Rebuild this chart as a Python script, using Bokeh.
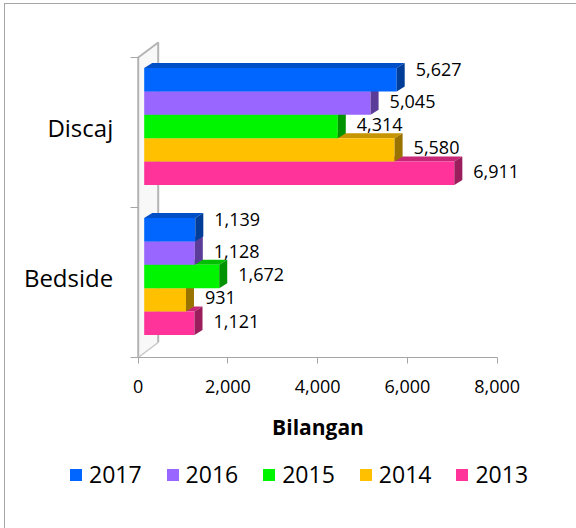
from bokeh.plotting import figure
from bokeh.models import Range1d, FixedTicker, NumeralTickFormatter, Legend, LegendItem
from bokeh.embed import file_html
from bokeh.resources import INLINE
from bokeh.core.properties import value

# ---------------- data ----------------
categories = ["Bedside", "Discaj"]            # bottom to top
series = ["2017", "2016", "2015", "2014", "2013"]
discaj = [5627, 5045, 4314, 5580, 6911]
bedside = [1139, 1128, 1672, 931, 1121]
x_ticks = [0, 2000, 4000, 6000, 8000]
x_title = "Bilangan"

colors = ["#0066FF", "#9966FF", "#00F500", "#FFC000", "#FF3399"]
values_by_cat = {"Discaj": discaj, "Bedside": bedside}

FONT = "Open Sans"

# ---------------- geometry ----------------
W, H = 571, 524                  # canvas (placed at page 5,4 after margin + border)
px_x = 359 / 8000.0              # px per unit on the value axis
px_y = 150.0                     # px per category band
X0_PX, Y0_PX = 132.7, 353.0      # canvas position of the (0, 0) corner
X_MIN = -X0_PX / px_x
X_MAX = X_MIN + W / px_x
Y_MAX = Y0_PX / px_y
Y_MIN = Y_MAX - H / px_y

off = 6 / px_x          # front face starts a bit right of the wall
ddx = 8 / px_x          # 3D depth
ddy = 5 / px_y
bar_h = 23.4 / px_y
top_rel = 64.5 / px_y
wdx = 20 / px_x
wdy = 15 / px_y


def shade(hexcol, f):
    h = hexcol.lstrip("#")
    r, g, b = (int(h[i:i + 2], 16) for i in (0, 2, 4))
    return "#%02x%02x%02x" % (int(r * f), int(g * f), int(b * f))


p = figure(width=W, height=H, output_backend="svg", toolbar_location=None,
           x_range=Range1d(X_MIN, X_MAX), y_range=Range1d(Y_MIN, Y_MAX),
           min_border_left=0, min_border_right=0, min_border_top=0, min_border_bottom=0,
           frame_width=W, frame_height=H)
p.outline_line_color = None
p.xgrid.visible = False
p.ygrid.visible = False
p.styles = {"margin-left": "4px", "margin-top": "3px",
            "border-left": "1px solid #a6a6a6", "border-top": "1px solid #a6a6a6"}

# ---------------- wall ----------------
p.patch([0, wdx, wdx, 0], [0, wdy, 2 + wdy, 2], fill_color="#f8f8f8", line_color=None)
p.line([0, 0, wdx, wdx], [0, 2, 2 + wdy, wdy], line_color="#b4b4b4", line_width=2)
p.line([0, wdx], [0, wdy], line_color="#c8c8c8", line_width=1.5)

# ---------------- bars ----------------
centers = {"Bedside": 0.5, "Discaj": 1.5}
front_renderers = {}
for i in reversed(range(len(series))):
    col = colors[i]
    lefts, rights, tops, bots = [], [], [], []
    top_xs, top_ys, side_xs, side_ys = [], [], [], []
    for cat in categories:
        v = values_by_cat[cat][i]
        yt = centers[cat] + top_rel - i * bar_h
        yb = yt - bar_h
        x0, x1 = off, off + v
        lefts.append(x0); rights.append(x1); tops.append(yt); bots.append(yb)
        top_xs.append([x0, x1, x1 + ddx, x0 + ddx])
        top_ys.append([yt, yt, yt + ddy, yt + ddy])
        side_xs.append([x1, x1, x1 + ddx, x1 + ddx])
        side_ys.append([yb, yt, yt + ddy, yb + ddy])
    p.patches(top_xs, top_ys, fill_color=shade(col, 0.78), line_color=None)
    r = p.quad(left=lefts, right=rights, top=tops, bottom=bots,
               fill_color=col, line_color=None)
    p.patches(side_xs, side_ys, fill_color=shade(col, 0.6), line_color=None)
    front_renderers[series[i]] = r

    # data labels
    lab_x = [off + values_by_cat[c][i] for c in categories]
    lab_y = [centers[c] + top_rel - (i + 0.5) * bar_h for c in categories]
    lab_t = ["{:,}".format(values_by_cat[c][i]) for c in categories]
    p.text(x=lab_x, y=lab_y, text=lab_t, x_offset=19, y_offset=(-10 if i == 0 else -2),
           text_font=value(FONT), text_font_size="18px", text_color="#000000",
           text_align="left", text_baseline="middle")

# ---------------- axes ----------------
xa = p.xaxis[0]
xa.fixed_location = 0
xa.bounds = (0, 8000)
xa.ticker = FixedTicker(ticks=x_ticks)
xa.formatter = NumeralTickFormatter(format="0,0")
xa.axis_line_color = "#a6a6a6"
xa.major_tick_line_color = "#a6a6a6"
xa.major_tick_out = 6
xa.major_tick_in = 0
xa.minor_tick_line_color = None
xa.major_label_text_font = FONT
xa.major_label_text_font_size = "18px"
xa.major_label_text_color = "#000000"
xa.major_label_standoff = 16
xa.axis_label = x_title
xa.axis_label_text_font = FONT
xa.axis_label_text_font_size = "21px"
xa.axis_label_text_font_style = "bold"
xa.axis_label_text_color = "#000000"
xa.axis_label_standoff = 17

label_nudge = 5 / px_y
ya = p.yaxis[0]
ya.fixed_location = 0
ya.bounds = (0, 2)
ya.ticker = FixedTicker(ticks=[centers[c] + label_nudge for c in categories],
                        minor_ticks=[0, 1, 2])
ya.major_label_overrides = {centers[c] + label_nudge: c for c in categories}
ya.axis_line_color = None
ya.major_tick_line_color = None
ya.major_tick_out = 0
ya.major_tick_in = 0
ya.minor_tick_line_color = "#a6a6a6"
ya.minor_tick_out = 8
ya.minor_tick_in = 0
ya.major_label_text_font = FONT
ya.major_label_text_font_size = "24px"
ya.major_label_text_color = "#000000"
ya.major_label_standoff = 17

# ---------------- legend ----------------
legend = Legend(items=[LegendItem(label=s, renderers=[front_renderers[s]]) for s in series],
                orientation="horizontal", location=(63, 38),
                glyph_width=15, glyph_height=15, label_standoff=6, spacing=23,
                padding=0, margin=0, border_line_color=None, background_fill_alpha=0,
                label_text_font=FONT, label_text_font_size="23px", label_text_color="#000000")
p.add_layout(legend, "center")

open("out.html", "w").write(file_html(p, INLINE))
